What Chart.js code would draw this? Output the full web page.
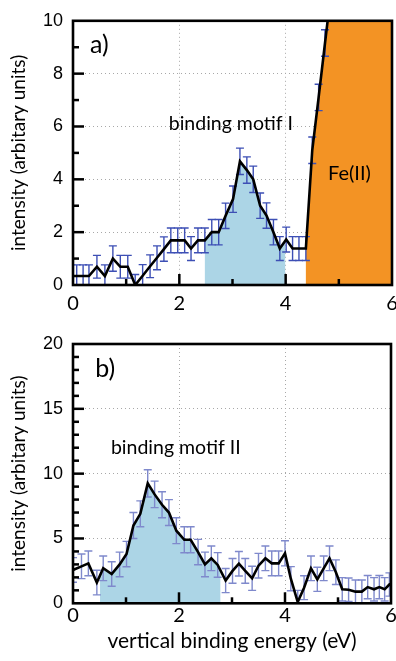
<!DOCTYPE html>
<html>
<head>
<meta charset="utf-8">
<script src="https://cdn.jsdelivr.net/npm/chart.js@4.4.1/dist/chart.umd.min.js"></script>
<style>
  html, body { margin: 0; padding: 0; background: #fff; }
  #wrap { position: relative; width: 396px; height: 661px; }
  canvas { position: absolute; left: 0; }
  #chartA { top: 0; }
  #chartB { top: 320px; }
</style>
</head>
<body>
<div id="wrap">
  <canvas id="chartA" width="396" height="320"></canvas>
  <canvas id="chartB" width="396" height="341"></canvas>
</div>
<script>
// ===== Data: panel a =====
const energyA = [-0.05, 0.07, 0.19, 0.30, 0.45, 0.60, 0.75, 0.89, 1.03, 1.17, 1.31, 1.45, 1.58, 1.71, 1.84, 1.97,
  2.10, 2.22, 2.35, 2.48, 2.61, 2.74, 2.87, 3.01, 3.14, 3.27, 3.39, 3.52, 3.64, 3.77, 3.89, 4.01, 4.13, 4.25,
  4.38, 4.50, 4.62, 4.74, 4.86, 4.98, 5.10, 5.22, 5.34, 5.46, 5.58, 5.70, 5.82, 5.94, 6.06];
const intensityA = [0.34, 0.34, 0.34, 0.34, 0.69, 0.34, 1.00, 0.69, 0.69, 0.00, 0.35, 0.71, 1.03, 1.36, 1.69, 1.69,
  1.69, 1.38, 1.69, 1.69, 2.00, 2.00, 2.62, 3.25, 4.68, 4.35, 4.00, 3.00, 2.63, 2.00, 1.38, 1.72, 1.38, 1.38,
  1.38, 5.10, 7.10, 9.16, 11.2, 13.3, 15.2, 16.8, 18.0, 18.8, 19.2, 19.3, 19.0, 18.6, 18.0];
const errorA = [0.42, 0.42, 0.42, 0.42, 0.43, 0.42, 0.48, 0.43, 0.43, 0.40, 0.42, 0.43, 0.45, 0.46, 0.47, 0.47,
  0.47, 0.45, 0.47, 0.47, 0.48, 0.48, 0.48, 0.50, 0.50, 0.50, 0.50, 0.48, 0.48, 0.48, 0.45, 0.47, 0.45, 0.45,
  0.45, 0.50, 0.50, 0.50, 0.50, 0.50, 0.50, 0.50, 0.50, 0.50, 0.50, 0.50, 0.50, 0.50, 0.50];
const motifIRange = [2.48, 3.99];
const fe2Range = [4.38, 6.0];

// ===== Data: panel b =====
const energyB = [0.00, 0.16, 0.29, 0.45, 0.57, 0.73, 0.88, 1.01, 1.14, 1.27, 1.41, 1.54, 1.68, 1.81, 1.95, 2.10,
  2.22, 2.36, 2.49, 2.61, 2.73, 2.88, 3.01, 3.13, 3.25, 3.38, 3.50, 3.63, 3.75, 3.88, 4.00, 4.11, 4.24, 4.36,
  4.49, 4.61, 4.73, 4.84, 4.96, 5.08, 5.20, 5.33, 5.45, 5.56, 5.68, 5.78, 5.88, 5.97, 6.08];
const intensityB = [2.57, 2.85, 3.08, 1.60, 2.70, 2.26, 3.00, 3.80, 6.00, 6.90, 9.25, 8.40, 7.60, 7.00, 5.60, 4.90,
  4.90, 3.95, 3.00, 3.47, 2.96, 1.75, 2.50, 3.05, 2.50, 1.93, 2.90, 3.47, 3.08, 3.08, 3.86, 1.90, 0.10, 1.20,
  2.70, 1.85, 2.70, 3.47, 2.40, 1.08, 1.05, 0.90, 0.90, 1.25, 1.08, 1.25, 1.08, 1.45, 1.60];
const errorB = [0.95, 0.95, 0.95, 0.95, 0.95, 0.95, 0.95, 0.98, 1.00, 1.00, 1.05, 1.02, 1.00, 1.00, 1.00, 1.00,
  1.00, 0.98, 0.95, 0.95, 0.95, 0.93, 0.95, 0.95, 0.95, 0.93, 0.95, 0.95, 0.95, 0.95, 0.97, 0.93, 0.90, 0.92,
  0.95, 0.93, 0.95, 0.95, 0.95, 0.90, 0.90, 0.90, 0.90, 0.90, 0.90, 0.90, 0.90, 0.90, 0.90];
const motifIIRange = [0.51, 2.78];

// ===== Axis ticks =====
const xMajor = [2, 4];
const xMinor = [1, 3, 5];
const yMajorA = [2, 4, 6, 8];
const yMinorA = [1, 3, 5, 7, 9];
const yMajorB = [5, 10, 15];
const yMinorB = [1, 2, 3, 4, 6, 7, 8, 9, 11, 12, 13, 14, 16, 17, 18, 19];

// ===== Decoration plugin: fills, error bars, frame, inward ticks, labels =====
const decor = {
  id: "decor",
  beforeDatasetsDraw(chart, args, opts) {
    const { ctx, chartArea: a, scales } = chart;
    const x = scales.x, y = scales.y;
    const ds = chart.data.datasets[0];
    const pts = ds.data;

    // shaded regions under the curve
    opts.fills.forEach((f) => {
      const x0 = Math.max(a.left, x.getPixelForValue(f.range[0]));
      const x1 = Math.min(a.right, x.getPixelForValue(f.range[1]));
      ctx.save();
      ctx.beginPath();
      ctx.rect(x0, a.top, x1 - x0, a.bottom - a.top);
      ctx.clip();
      ctx.beginPath();
      ctx.moveTo(x.getPixelForValue(pts[0].x), y.getPixelForValue(0));
      pts.forEach((p) => ctx.lineTo(x.getPixelForValue(p.x), y.getPixelForValue(p.y)));
      ctx.lineTo(x.getPixelForValue(pts[pts.length - 1].x), y.getPixelForValue(0));
      ctx.closePath();
      ctx.fillStyle = f.color;
      ctx.fill();
      ctx.restore();
    });

    // error bars
    ctx.save();
    ctx.beginPath();
    ctx.rect(a.left, a.top, a.right - a.left, a.bottom - a.top);
    ctx.clip();
    ctx.strokeStyle = opts.errorColor;
    ctx.lineWidth = 1.4;
    pts.forEach((p, i) => {
      const px = x.getPixelForValue(p.x);
      const lo = y.getPixelForValue(p.y - ds.errors[i]);
      const hi = y.getPixelForValue(p.y + ds.errors[i]);
      ctx.beginPath();
      ctx.moveTo(px, lo); ctx.lineTo(px, hi);
      ctx.moveTo(px - 4, lo); ctx.lineTo(px + 4, lo);
      ctx.moveTo(px - 4, hi); ctx.lineTo(px + 4, hi);
      ctx.stroke();
    });
    ctx.restore();
  },
  afterDraw(chart, args, opts) {
    const { ctx, chartArea: a, scales } = chart;
    const x = scales.x, y = scales.y;
    ctx.save();
    ctx.strokeStyle = "#000";
    ctx.lineWidth = 2.5;
    ctx.lineCap = "butt";
    // inward ticks on bottom and left
    const tick = (list, len, horiz) => {
      list.forEach((v) => {
        ctx.beginPath();
        if (horiz) {
          const px = x.getPixelForValue(v);
          ctx.moveTo(px, a.bottom); ctx.lineTo(px, a.bottom - len);
        } else {
          const py = y.getPixelForValue(v);
          ctx.moveTo(a.left, py); ctx.lineTo(a.left + len, py);
        }
        ctx.stroke();
      });
    };
    tick(opts.xMajor, 11, true);
    tick(opts.xMinor, 6, true);
    tick(opts.yMajor, 11, false);
    tick(opts.yMinor, 6, false);
    ctx.lineWidth = 2.6;
    ctx.strokeRect(a.left, a.top, a.right - a.left, a.bottom - a.top);

    // text labels
    ctx.fillStyle = "#000";
    ctx.textBaseline = "middle";
    opts.labels.forEach((l) => {
      ctx.font = l.size + "px Lato";
      ctx.textAlign = l.align;
      ctx.fillText(l.text, x.getPixelForValue(l.x), y.getPixelForValue(l.y));
    });
    ctx.restore();
  },
};

function makeChart(id, cfg) {
  const pts = cfg.energy.map((e, i) => ({ x: e, y: cfg.intensity[i] }));
  return new Chart(document.getElementById(id), {
    type: "line",
    data: {
      datasets: [
        {
          data: pts,
          errors: cfg.errors,
          borderColor: "#000",
          borderWidth: 2.6,
          pointRadius: 0,
          tension: 0,
          fill: false,
        },
      ],
    },
    plugins: [decor],
    options: {
      responsive: false,
      animation: false,
      events: [],
      layout: { padding: cfg.padding },
      plugins: {
        legend: { display: false },
        tooltip: { enabled: false },
        decor: {
          fills: cfg.fills,
          errorColor: cfg.errorColor,
          xMajor: xMajor,
          xMinor: xMinor,
          yMajor: cfg.yMajor,
          yMinor: cfg.yMinor,
          labels: cfg.labels,
        },
      },
      scales: {
        x: {
          type: "linear",
          min: 0,
          max: 6,
          afterFit: (s) => {
            s.height = cfg.xHeight;
            s.paddingLeft = 0;
            s.paddingRight = 0;
          },
          ticks: {
            stepSize: 2,
            color: "#000",
            padding: cfg.xTickPad,
            font: { family: "Lato", size: 20 },
          },
          grid: {
            drawTicks: false,
            color: (c) => (c.tick && c.tick.value > 0 && c.tick.value < 6 ? "#a8a8a8" : "rgba(0,0,0,0)"),
            lineWidth: 1,
          },
          border: { display: false, dash: [1, 3] },
          title: cfg.xTitle
            ? {
                display: true,
                text: cfg.xTitle,
                color: "#000",
                font: { family: "Lato", size: 21 },
                padding: { top: 0, bottom: 7 },
              }
            : { display: false },
        },
        y: {
          min: 0,
          max: cfg.yMax,
          afterFit: (s) => { s.width = 73; },
          ticks: {
            stepSize: cfg.yStep,
            color: "#000",
            padding: 10,
            font: { family: "Liberation Sans", size: 18 },
          },
          grid: {
            drawTicks: false,
            color: (c) => (c.tick && c.tick.value > 0 && c.tick.value < cfg.yMax ? "#a8a8a8" : "rgba(0,0,0,0)"),
            lineWidth: 1,
          },
          border: { display: false, dash: [1, 3] },
          title: {
            display: true,
            text: "intensity (arbitary units)",
            color: "#000",
            font: { family: "Lato", size: 19 },
            padding: { top: 7, bottom: 0 },
          },
        },
      },
    },
  });
}

makeChart("chartA", {
  energy: energyA,
  intensity: intensityA,
  errors: errorA,
  errorColor: "#3d4fb5",
  yMax: 10,
  yStep: 2,
  yMajor: yMajorA,
  yMinor: yMinorA,
  padding: { left: 0, top: 19, right: 4, bottom: 0 },
  xHeight: 35,
  xTickPad: 7,
  fills: [
    { range: motifIRange, color: "#acd5e6" },
    { range: fe2Range, color: "#f39324" },
  ],
  labels: [
    { text: "a)", x: 0.32, y: 9.1, size: 25, align: "left" },
    { text: "binding motif I", x: 2.97, y: 6.1, size: 19.5, align: "center" },
    { text: "Fe(II)", x: 5.2, y: 4.2, size: 20, align: "center" },
  ],
});

makeChart("chartB", {
  energy: energyB,
  intensity: intensityB,
  errors: errorB,
  errorColor: "#7f89cc",
  yMax: 20,
  yStep: 5,
  yMajor: yMajorB,
  yMinor: yMinorB,
  padding: { left: 0, top: 24, right: 5, bottom: 0 },
  xHeight: 57.7,
  xTickPad: 0,
  xTitle: "vertical binding energy (eV)",
  fills: [{ range: motifIIRange, color: "#acd5e6" }],
  labels: [
    { text: "b)", x: 0.42, y: 18.1, size: 25, align: "left" },
    { text: "binding motif II", x: 1.94, y: 12.0, size: 19.5, align: "center" },
  ],
});
</script>
</body>
</html>
